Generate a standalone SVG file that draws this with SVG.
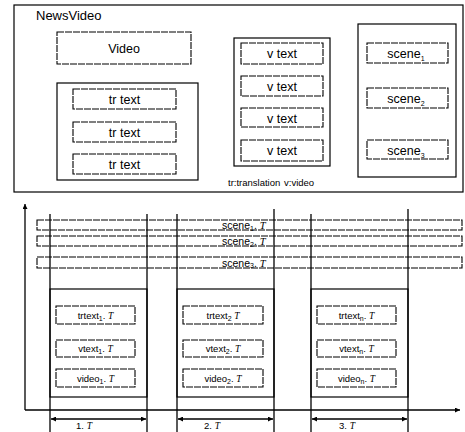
<svg xmlns="http://www.w3.org/2000/svg" width="465" height="432" viewBox="0 0 465 432">
  <style>
    .box { fill: #fff; stroke: #000; stroke-width: 1.2; }
    .dbox { fill: #fff; stroke: #000; stroke-width: 1.1; stroke-dasharray: 7 1; }
    .ln { stroke: #000; stroke-width: 1.3; fill: none; }
    .t { font-family: "Liberation Sans", Arial, sans-serif; fill: #000; }
    .lg { font-size: 13px; }
    .md { font-size: 12.5px; text-anchor: middle; }
    .sm { font-size: 9.5px; text-anchor: middle; }
    .bar { font-size: 10.5px; }
    .sub { font-size: 7px; }
    .it { font-family: "Liberation Serif", serif; font-style: italic; }
  </style>
  <defs>
    <marker id="ah" viewBox="0 0 10 10" refX="10" refY="5" markerWidth="7" markerHeight="5" orient="auto-start-reverse" markerUnits="userSpaceOnUse">
      <path d="M0,0 L10,5 L0,10 z" fill="#000"/>
    </marker>
  </defs>

  <!-- Upper structure: NewsVideo container -->
  <g id="newsvideo">
    <rect class="box" x="14" y="5" width="449" height="187"/>
    <text class="t lg" x="36" y="20">NewsVideo</text>
  </g>
  <g id="video">
    <rect class="dbox" x="57" y="32" width="134" height="32"/>
    <text class="t md" x="124" y="53">Video</text>
  </g>
  <g id="tr-group">
    <rect class="box" x="57" y="83" width="141" height="97"/>
    <rect class="dbox" x="73" y="89" width="103" height="20"/>
    <text class="t md" x="124.5" y="104">tr text</text>
    <rect class="dbox" x="73" y="122" width="103" height="20"/>
    <text class="t md" x="124.5" y="137">tr text</text>
    <rect class="dbox" x="73" y="154" width="103" height="20"/>
    <text class="t md" x="124.5" y="169">tr text</text>
  </g>
  <g id="v-group">
    <rect class="box" x="234" y="38" width="96" height="128"/>
    <rect class="dbox" x="241" y="43" width="82" height="21"/>
    <text class="t md" x="282" y="58">v text</text>
    <rect class="dbox" x="241" y="76" width="82" height="20"/>
    <text class="t md" x="282" y="91">v text</text>
    <rect class="dbox" x="241" y="108" width="82" height="19"/>
    <text class="t md" x="282" y="123">v text</text>
    <rect class="dbox" x="241" y="140" width="82" height="21"/>
    <text class="t md" x="282" y="155">v text</text>
  </g>
  <g id="scene-group">
    <rect class="box" x="358" y="24" width="98" height="153"/>
    <rect class="dbox" x="367" y="43" width="81" height="20"/>
    <text class="t md" x="406" y="58">scene<tspan class="sub" dy="3">1</tspan></text>
    <rect class="dbox" x="367" y="88" width="81" height="20"/>
    <text class="t md" x="406" y="103">scene<tspan class="sub" dy="3">2</tspan></text>
    <rect class="dbox" x="367" y="140" width="81" height="19"/>
    <text class="t md" x="406" y="155">scene<tspan class="sub" dy="3">3</tspan></text>
  </g>
  <g id="legend">
    <text class="t" x="228" y="186" font-size="9.5px">tr:translation</text>
    <text class="t" x="284" y="186" font-size="9.5px">v:video</text>
  </g>

  <!-- Lower timeline: scene bars across the time axis -->
  <g id="scene-bars">
    <rect class="dbox" x="37" y="220" width="425" height="10"/>
    <text class="t bar" x="222" y="229">scene<tspan class="sub" dy="1.5">1</tspan><tspan dy="-1.5">. </tspan><tspan class="it">T</tspan></text>
    <rect class="dbox" x="37" y="236" width="425" height="10"/>
    <text class="t bar" x="222" y="245">scene<tspan class="sub" dy="1.5">2</tspan><tspan dy="-1.5">. </tspan><tspan class="it">T</tspan></text>
    <rect class="dbox" x="37" y="257" width="425" height="11"/>
    <text class="t bar" x="222" y="266.5">scene<tspan class="sub" dy="1.5">3</tspan><tspan dy="-1.5">. </tspan><tspan class="it">T</tspan></text>
  </g>

  <g id="column-1">
    <rect class="box" x="50" y="289" width="97" height="108"/>
    <rect class="dbox" x="56" y="306" width="79" height="18"/>
    <text class="t sm" x="95.5" y="319">trtext<tspan class="sub" dy="2">1</tspan><tspan dy="-2">. </tspan><tspan class="it">T</tspan></text>
    <rect class="dbox" x="56" y="340" width="79" height="17"/>
    <text class="t sm" x="95.5" y="352">vtext<tspan class="sub" dy="2">1</tspan><tspan dy="-2">. </tspan><tspan class="it">T</tspan></text>
    <rect class="dbox" x="56" y="369" width="79" height="18"/>
    <text class="t sm" x="95.5" y="382">video<tspan class="sub" dy="2">1</tspan><tspan dy="-2">. </tspan><tspan class="it">T</tspan></text>
  </g>
  <g id="column-2">
    <rect class="box" x="177" y="289" width="97" height="108"/>
    <rect class="dbox" x="183" y="306" width="80" height="18"/>
    <text class="t sm" x="223" y="319">trtext<tspan class="sub" dy="2">2</tspan><tspan dy="-2"> </tspan><tspan class="it">T</tspan></text>
    <rect class="dbox" x="183" y="340" width="80" height="17"/>
    <text class="t sm" x="223" y="352">vtext<tspan class="sub" dy="2">2</tspan><tspan dy="-2">. </tspan><tspan class="it">T</tspan></text>
    <rect class="dbox" x="183" y="369" width="80" height="18"/>
    <text class="t sm" x="223" y="382">video<tspan class="sub" dy="2">2</tspan><tspan dy="-2">. </tspan><tspan class="it">T</tspan></text>
  </g>
  <g id="column-3">
    <rect class="box" x="311" y="289" width="97" height="108"/>
    <rect class="dbox" x="317" y="306" width="79" height="18"/>
    <text class="t sm" x="356.5" y="319">trtext<tspan class="sub" dy="2">n</tspan><tspan dy="-2">. </tspan><tspan class="it">T</tspan></text>
    <rect class="dbox" x="317" y="340" width="79" height="17"/>
    <text class="t sm" x="356.5" y="352">vtext<tspan class="sub" dy="2">n</tspan><tspan dy="-2">. </tspan><tspan class="it">T</tspan></text>
    <rect class="dbox" x="317" y="369" width="79" height="18"/>
    <text class="t sm" x="356.5" y="382">video<tspan class="sub" dy="2">n</tspan><tspan dy="-2">. </tspan><tspan class="it">T</tspan></text>
  </g>

  <!-- Axes, period boundaries and duration arrows -->
  <g id="connectors">
    <line class="ln" x1="25" y1="410" x2="25" y2="204" marker-end="url(#ah)"/>
    <line class="ln" x1="25" y1="410" x2="460" y2="410" marker-end="url(#ah)"/>
    <line class="ln" x1="50" y1="214" x2="50" y2="432"/>
    <line class="ln" x1="147" y1="214" x2="147" y2="432"/>
    <line class="ln" x1="177" y1="214" x2="177" y2="432"/>
    <line class="ln" x1="274" y1="209" x2="274" y2="432"/>
    <line class="ln" x1="311" y1="214" x2="311" y2="432"/>
    <line class="ln" x1="408" y1="209" x2="408" y2="432"/>
    <line class="ln" x1="51" y1="419" x2="146" y2="419" marker-start="url(#ah)" marker-end="url(#ah)"/>
    <line class="ln" x1="178" y1="419" x2="273" y2="419" marker-start="url(#ah)" marker-end="url(#ah)"/>
    <line class="ln" x1="312" y1="419" x2="407" y2="419" marker-start="url(#ah)" marker-end="url(#ah)"/>
  </g>
  <g id="duration-labels">
    <text class="t sm" x="84" y="429">1. <tspan class="it">T</tspan></text>
    <text class="t sm" x="212" y="429">2. <tspan class="it">T</tspan></text>
    <text class="t sm" x="347" y="429">3. <tspan class="it">T</tspan></text>
  </g>
</svg>
